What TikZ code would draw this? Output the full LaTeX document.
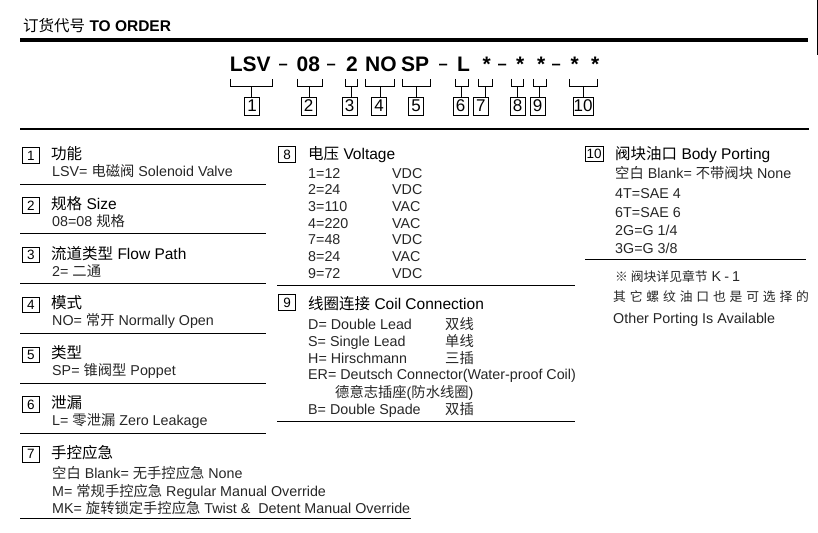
\documentclass[tikz,border=0pt]{standalone}
\usepackage{fontspec}
\setmainfont{Liberation Sans}
\newfontfamily\zh{Noto Sans CJK SC}
\newfontfamily\zhsp[LetterSpace=30]{Noto Sans CJK SC}
\newfontfamily\lsp[LetterSpace=22]{Liberation Sans}
\usetikzlibrary{positioning,calc}

\newcommand\codedash{\raisebox{1.5pt}{\bfseries\fontsize{16.5}{16.5}\selectfont –}}

\tikzset{
  numbox/.style={draw, line width=0.9pt, inner sep=0pt, minimum width=15pt, minimum height=18pt, font=\fontsize{17}{17}\selectfont},
  secbox/.style={draw, line width=0.9pt, inner sep=0pt, minimum width=17pt, minimum height=15.5pt, font=\fontsize{13.5}{13.5}\selectfont},
  sectitle/.style={anchor=base west, inner sep=0pt, font=\fontsize{15.5}{16}\selectfont},
  entry/.style={anchor=base west, inner sep=0pt, text=black!85, font=\fontsize{14.3}{16}\selectfont},
  codetxt/.style={anchor=base west, inner sep=0pt, font=\fontsize{21}{21}\selectfont\bfseries},
  seprule/.style={line width=1pt},
  brk/.style={line width=1pt},
}

\begin{document}
\begin{tikzpicture}[x=1pt, y=-1pt]
    \useasboundingbox (0,0) rectangle (818,532);

    % Header
    \node[sectitle] (hdr) at (23,32) {{\zh 订货代号} \textbf{TO ORDER}};
    \draw[line width=4pt] (20,40.3) -- (808,40.3);
    \draw[line width=0.8pt] (817,0) -- (817,55);
    \draw[line width=1.3pt] (20,129) -- (809,129);

    % Code line
    \foreach \x/\t [count=\i] in {229.7/LSV, 278.5/\codedash, 296.5/08, 326.5/\codedash, 346/2, 365/NO, 401/SP,
        438.5/\codedash, 457/L, 482.5/*, 497.5/\codedash, 516/*, 537/*, 551.5/\codedash, 570.5/*, 591/*}
        \node[codetxt] (c\i) at (\x,71.5) {\t};

    % Brackets and numbered boxes
    \foreach \i/\xa/\xb/\bx/\w in {1/230.7/272.3/252/15, 2/297.3/322.3/308.7/15, 3/345.7/357.3/349.7/15,
        4/365.7/394.3/379.2/15, 5/402/430.7/416/15, 6/455/468/460.5/15, 7/478/492/480.8/15,
        8/511.7/523.3/517.5/15, 9/533/546/537.5/15, 10/569.3/597.3/583/20} {
        \draw[brk] (\xa,79) -- (\xa,86.5) -- (\xb,86.5) -- (\xb,79);
        \coordinate (k\i) at ({(\xa+\xb)/2},86.5);
        \node[numbox, minimum width=\w pt] (n\i) at (\bx,106) {\i};
        \draw[brk] (k\i) -- (k\i |- n\i.north);
    }

    % Left column
    \foreach \i in {1,...,7}
        \node[secbox] (s\i) at (31,{155.5+49.8*(\i-1)}) {\i};
    \foreach \k in {0,...,5}
        \draw[seprule] (20,{184+49.8*\k}) -- (266,{184+49.8*\k});
    \draw[seprule] (20,518) -- (411,518);

    \node[sectitle] (t1) at (51,159.5) {\zh 功能};
    \node[entry] (e1) at (52,176.5) {LSV= {\zh 电磁阀} Solenoid Valve};
    \node[sectitle] (t2) at (51,209.3) {{\zh 规格} Size};
    \node[entry] (e2) at (52,226.3) {08=08 {\zh 规格}};
    \node[sectitle] (t3) at (51,259.1) {{\zh 流道类型} Flow Path};
    \node[entry] (e3) at (52,276.1) {2= {\zh 二通}};
    \node[sectitle] (t4) at (51,308.9) {\zh 模式};
    \node[entry] (e4) at (52,325.9) {NO= {\zh 常开} Normally Open};
    \node[sectitle] (t5) at (51,358.7) {\zh 类型};
    \node[entry] (e5) at (52,375.7) {SP= {\zh 锥阀型} Poppet};
    \node[sectitle] (t6) at (51,408.5) {\zh 泄漏};
    \node[entry] (e6) at (52,425.5) {L= {\zh 零泄漏} Zero Leakage};
    \node[sectitle] (t7) at (51,458.3) {\zh 手控应急};
    \node[entry] (e7a) at (52,478) {{\zh 空白} Blank= {\zh 无手控应急} None};
    \node[entry] (e7b) at (52,496) {M= {\zh 常规手控应急} Regular Manual Override};
    \node[entry] (e7c) at (52,513) {MK= {\zh 旋转锁定手控应急} Twist \&~ Detent Manual Override};

    % Middle column
    \node[secbox] (s8) at (287,154.5) {8};
    \node[sectitle] (t8) at (308,159.5) {{\zh 电压} Voltage};
    \foreach \v/\u [count=\j] in {1=12/VDC, 2=24/VDC, 3=110/VAC, 4=220/VAC, 7=48/VDC, 8=24/VAC, 9=72/VDC} {
        \node[entry] (v\j) at (308,{178+16.67*(\j-1)}) {\v};
        \node[entry] (u\j) at (392,{178+16.67*(\j-1)}) {\u};
    }
    \draw[seprule] (277,285) -- (575,285);

    \node[secbox] (s9) at (287,302.5) {9};
    \node[sectitle] (t9) at (308,309.5) {{\zh 线圈连接} Coil Connection};
    \node[entry] (d1) at (308,329) {D= Double Lead};
    \node[entry] (z1) at (445,329) {\zh 双线};
    \node[entry] (d2) at (308,346) {S= Single Lead};
    \node[entry] (z2) at (445,346) {\zh 单线};
    \node[entry] (d3) at (308,363) {H= Hirschmann};
    \node[entry] (z3) at (445,363) {\zh 三插};
    \node[entry] (d4) at (308,379.5) {ER= Deutsch Connector(Water-proof Coil)};
    \node[entry] (z4) at (335,397) {{\zh 德意志插座}({\zh 防水线圈})};
    \node[entry] (d5) at (308,414) {B= Double Spade};
    \node[entry] (z5) at (445,414) {\zh 双插};
    \draw[seprule] (277,421) -- (575,421);

    % Right column
    \node[secbox, minimum width=18pt] (s10) at (594,154) {10};
    \node[sectitle] (t10) at (615,159.5) {{\zh 阀块油口} Body Porting};
    \node[entry] (p1) at (615,178) {{\zh 空白} Blank= {\zh 不带阀块} None};
    \node[entry] (p2) at (615,198) {4T=SAE 4};
    \node[entry] (p3) at (615,217) {6T=SAE 6};
    \node[entry] (p4) at (615,235) {2G=G 1/4};
    \node[entry] (p5) at (615,253) {3G=G 3/8};
    \draw[seprule] (585,259) -- (806,259);

    % Notes
    \node[entry] (m1) at (615,281) {{\zh\fontsize{12.8}{14}\selectfont ※ 阀块详见章节} {\lsp K-1}};
    \node[entry] (m2) at (613,301) {\zhsp\fontsize{12.8}{14}\selectfont 其它螺纹油口也是可选择的};
    \node[entry] (m3) at (613,323) {Other Porting Is Available};
\end{tikzpicture}
\end{document}
